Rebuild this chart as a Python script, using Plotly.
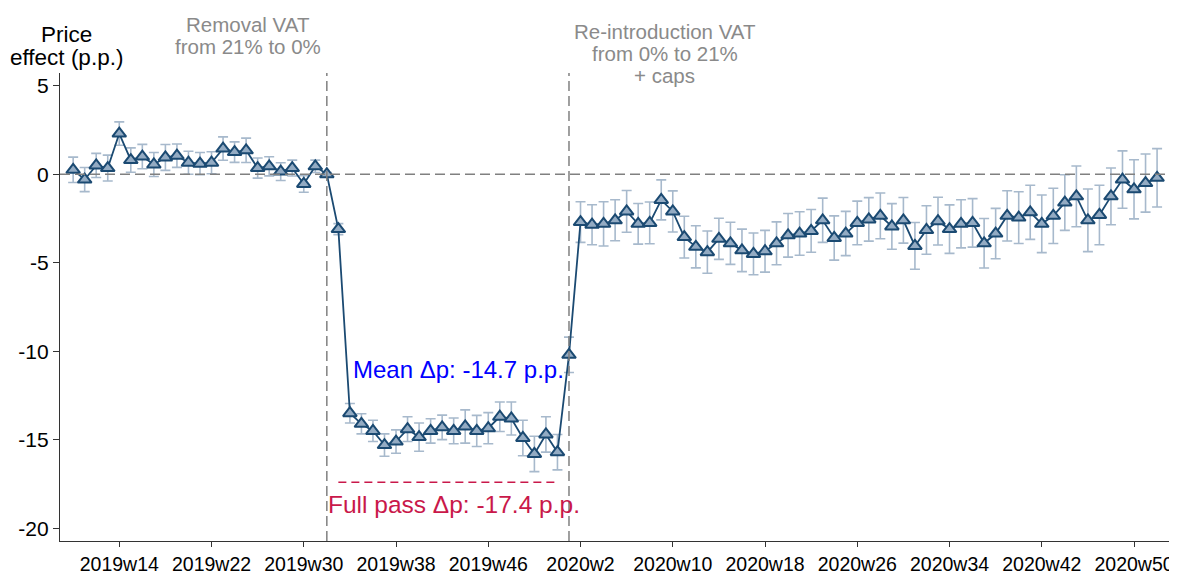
import plotly.graph_objects as go

# weeks 2019w10 .. 2020w52, mapped to a running week index (2020 weeks follow 2019w52)
weeks = [f"2019w{w}" for w in range(10, 53)] + [f"2020w{w}" for w in range(1, 53)]

effect = [
    0.25, -0.3, 0.5, 0.35, 2.3, 0.8, 1.0, 0.55, 0.95, 1.05, 0.65, 0.6, 0.65,
    1.45, 1.25, 1.35, 0.35, 0.45, 0.15, 0.35, -0.55, 0.45, 0.0,
    -3.1, -13.5, -14.1, -14.5, -15.3, -15.1, -14.4, -14.85, -14.5, -14.3, -14.5,
    -14.25, -14.5, -14.35, -13.7, -13.8, -14.9, -15.8, -14.7, -15.7, -10.2,
    -2.7, -2.85, -2.8, -2.6, -2.1, -2.8, -2.75, -1.45, -2.1, -3.55, -4.1, -4.4,
    -3.65, -3.9, -4.3, -4.5, -4.35, -3.9, -3.45, -3.35, -3.2, -2.6, -3.6, -3.35,
    -2.75, -2.55,
    -2.35, -2.95, -2.6, -4.05, -3.15, -2.65, -3.1, -2.8, -2.75, -3.9, -3.35,
    -2.35, -2.45, -2.15, -2.8, -2.35, -1.6, -1.25, -2.6, -2.3, -1.25, -0.3,
    -0.85, -0.5, -0.2,
]

ci_half = [
    0.72, 0.68, 0.68, 0.73, 0.66, 0.69, 0.69, 0.68, 0.73, 0.66, 0.65, 0.63, 0.62,
    0.66, 0.58, 0.69, 0.57, 0.54, 0.5, 0.45, 0.47, 0.35, 0.1,
    0.31, 0.55, 0.57, 0.6, 0.63, 0.66, 0.7, 0.8, 0.69, 0.69, 0.73, 0.94, 0.88,
    0.88, 0.83, 0.93, 1.0, 1.0, 1.0, 1.0, 1.0,
    1.15, 1.13, 1.25, 1.16, 1.18, 1.15, 1.18, 1.13, 1.16, 1.18, 1.19, 1.19,
    1.16, 1.19, 1.2, 1.18, 1.18, 1.21, 1.23, 1.23, 1.21, 1.25, 1.25, 1.25,
    1.23, 1.23,
    1.29, 1.29, 1.29, 1.32, 1.37, 1.35, 1.37, 1.36, 1.37, 1.4, 1.42, 1.42,
    1.46, 1.53, 1.63, 1.56, 1.57, 1.72, 1.77, 1.68, 1.6, 1.62, 1.67, 1.64, 1.65,
]

tick_labels = ["2019w14", "2019w22", "2019w30", "2019w38", "2019w46", "2020w2",
               "2020w10", "2020w18", "2020w26", "2020w34", "2020w42", "2020w50"]
y_ticks = [5, 0, -5, -10, -15, -20]

removal_week = "2019w32"
reintro_week = "2020w1"
full_pass = -17.4
full_pass_span = ("2019w33", "2019w52")
mean_dp = -14.7


def week_index(label):
    year, w = label.split("w")
    return int(w) + (52 if year == "2020" else 0)


x = [week_index(w) for w in weeks]
FONT = "Liberation Sans, Arial, sans-serif"
GREY = "#8a8a8a"
DASH = "10px,5px"

fig = go.Figure()
fig.add_trace(go.Scatter(
    x=x, y=effect, mode="lines+markers",
    line=dict(color="#1b4a72", width=1.8),
    marker=dict(symbol="triangle-up", size=12, color="#93abc3",
                line=dict(color="#1b4a72", width=2)),
    error_y=dict(type="data", array=ci_half, color="#a7b9cc", thickness=1.6, width=5),
    showlegend=False,
))

# zero reference and policy-change lines
fig.add_hline(y=0, line=dict(color="#808080", width=1.5, dash=DASH))
for wk in (removal_week, reintro_week):
    fig.add_vline(x=week_index(wk), line=dict(color="#808080", width=1.5, dash=DASH))

x0, x1 = (week_index(w) for w in full_pass_span)
fig.add_trace(go.Scatter(
    x=[x0, x1], y=[full_pass, full_pass], mode="lines",
    line=dict(color="#c9184a", width=1.5, dash="8px,5px"),
    showlegend=False, hoverinfo="skip",
))

mid = (x0 + x1) / 2
fig.add_annotation(x=mid + 0.9, y=-11.05, text=f"Mean Δp: {mean_dp} p.p.",
                   showarrow=False, font=dict(color="#0000ff", size=24, family=FONT))
fig.add_annotation(x=mid + 0.5, y=-18.65, text=f"Full pass Δp: {full_pass} p.p.",
                   showarrow=False, font=dict(color="#c9184a", size=24.5, family=FONT))


def text_block(xval, xref, lines, ys, color, size):
    for line, yv in zip(lines, ys):
        fig.add_annotation(x=xval, xref=xref, xanchor="center", y=yv, yref="paper",
                           yanchor="middle", text=line, showarrow=False,
                           font=dict(color=color, size=size, family=FONT))


text_block(week_index(removal_week) - 6.8, "x", ["Removal VAT", "from 21% to 0%"],
           [1.1045, 1.0576], GREY, 20.5)
text_block(week_index(reintro_week) + 8.3, "x",
           ["Re-introduction VAT", "from 0% to 21%", "+ caps"],
           [1.0896, 1.0426, 0.9957], GREY, 20.5)
text_block(0.006, "paper", ["Price", "effect (p.p.)"], [1.0832, 1.0341], "black", 22.5)

fig.update_xaxes(
    range=[8.86, 105.12], tickvals=[week_index(t) for t in tick_labels], ticktext=tick_labels,
    showgrid=False, zeroline=False, showline=True, linecolor="#333", linewidth=1.2,
    ticks="outside", ticklen=5, tickcolor="#333", tickfont=dict(size=19.5),
)
fig.update_yaxes(
    range=[-20.72, 5.72], tickvals=y_ticks, ticktext=[str(v) for v in y_ticks],
    showgrid=False, zeroline=False, showline=True, linecolor="#333", linewidth=1.2,
    ticks="outside", ticklen=6, tickcolor="#333", tickfont=dict(size=21),
)
# the page body keeps its default 8px margin, so the figure is 8px smaller than the window
fig.update_layout(
    width=1169, height=565,
    margin=dict(l=52, r=7, t=65, b=32, autoexpand=False),
    paper_bgcolor="white", plot_bgcolor="white",
    font=dict(family=FONT, size=21, color="black"),
)
fig.write_html("out.html")
